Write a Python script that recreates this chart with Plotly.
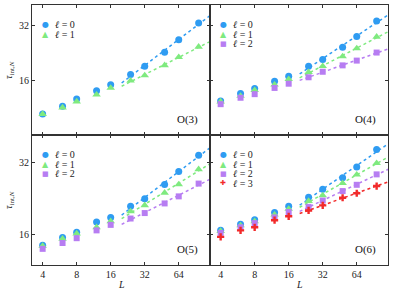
import numpy as np
import plotly.graph_objects as go
from plotly.subplots import make_subplots

# ---------------- data ----------------
L = [4, 6, 8, 12, 16, 24, 32, 48, 64, 96]

o3_l0 = [10.5, 11.6, 12.7, 14.1, 15.2, 17.3, 19.2, 22.9, 26.8, 33.1]
o3_l1 = [10.5, 11.4, 12.3, 13.4, 14.6, 16.0, 17.1, 19.4, 21.5, 24.5]

o4_l0 = [12.4, 13.6, 14.5, 15.9, 16.9, 19.2, 20.9, 24.4, 27.9, 33.9]
o4_l1 = [12.3, 13.2, 14.2, 15.2, 16.3, 17.8, 19.2, 21.7, 24.0, 27.8]
o4_l2 = [11.9, 12.9, 13.5, 14.6, 15.4, 16.7, 17.9, 19.4, 20.6, 22.8]

o5_l0 = [14.5, 15.6, 16.4, 18.1, 18.9, 21.0, 22.6, 25.9, 29.3, 34.2]
o5_l1 = [14.4, 15.4, 16.2, 17.2, 18.2, 20.0, 21.2, 23.9, 25.9, 29.9]
o5_l2 = [14.0, 14.8, 15.5, 16.7, 17.6, 18.7, 19.7, 21.6, 23.1, 26.1]

o6_l0 = [16.7, 17.7, 18.5, 19.8, 21.0, 22.9, 24.7, 27.6, 30.6, 36.1]
o6_l1 = [16.6, 17.5, 18.2, 19.4, 20.5, 22.1, 23.3, 26.2, 28.4, 31.7]
o6_l2 = [16.3, 17.2, 17.9, 18.9, 19.9, 20.9, 22.2, 24.3, 25.8, 28.5]
o6_l3 = [15.7, 16.7, 17.2, 18.4, 19.1, 20.2, 21.2, 22.8, 23.8, 25.5]

panel_names = ["O(3)", "O(4)", "O(5)", "O(6)"]
x_ticks = [4, 8, 16, 32, 64]
y_ticks = [16, 32]

FIT_LMIN = 24      # points used in power-law fit
FIT_FROM = 20      # fit line drawn from this L to the right edge
FIT_TO = 125

# ---------------- style ----------------
COLORS = ["#2f9cf2", "#7fea7f", "#b77df2", "#f22a2a"]
SYMBOLS = ["circle", "triangle-up", "square", "cross"]
SIZES = [7, 7.5, 6, 6]
GLYPHS = ["●", "▲", "■", "✚"]
GLYPH_SIZES = [8, 8, 7, 7]
FONT = "Liberation Serif, DejaVu Serif, serif"
AX = "#333333"

W, H = 399, 292
ML, MR, MT, MB = 32, 11, 5, 27
PW = (W - ML - MR) / 2
PH = (H - MT - MB) / 2

panels = [
    (1, 1, [o3_l0, o3_l1]),
    (1, 2, [o4_l0, o4_l1, o4_l2]),
    (2, 1, [o5_l0, o5_l1, o5_l2]),
    (2, 2, [o6_l0, o6_l1, o6_l2, o6_l3]),
]

fig = make_subplots(rows=2, cols=2, horizontal_spacing=0, vertical_spacing=0)

Larr = np.array(L, dtype=float)
fit_x = np.geomspace(FIT_FROM, FIT_TO, 40)
for r, c, series in panels:
    for k, ys in enumerate(series):
        ys = np.array(ys, dtype=float)
        m = Larr >= FIT_LMIN
        p = np.polyfit(np.log(Larr[m]), np.log(ys[m]), 1)
        fit_y = np.exp(np.polyval(p, np.log(fit_x)))
        fig.add_trace(go.Scatter(x=fit_x, y=fit_y, mode="lines",
                                 line=dict(color=COLORS[k], width=1.5, dash="dot"),
                                 showlegend=False, hoverinfo="skip"), row=r, col=c)
        fig.add_trace(go.Scatter(x=L, y=ys, mode="markers",
                                 marker=dict(color=COLORS[k], symbol=SYMBOLS[k],
                                             size=SIZES[k], line=dict(width=0)),
                                 showlegend=False), row=r, col=c)

xr = [np.log10(3.22), np.log10(121)]
axis_common = dict(showline=True, linecolor=AX, linewidth=1, mirror="allticks",
                   ticks="inside", ticklen=3, tickcolor=AX, tickwidth=1,
                   showgrid=False, zeroline=False, automargin=False,
                   tickfont=dict(family=FONT, size=10, color="#222"))
for r in (1, 2):
    for c in (1, 2):
        fig.update_xaxes(type="log", range=xr, tickvals=x_ticks,
                         ticktext=[str(v) for v in x_ticks],
                         showticklabels=(r == 2), row=r, col=c, **axis_common)
        yr = [np.log10(8.07), np.log10(41.5)] if r == 1 else [np.log10(12.0), np.log10(41.5)]
        fig.update_yaxes(type="log", range=yr, tickvals=y_ticks,
                         ticktext=[str(v) for v in y_ticks],
                         showticklabels=(c == 1), row=r, col=c, **axis_common)


def px(x):
    return (x - ML) / (W - ML - MR)


def py(y):
    return (H - MB - y) / (H - MT - MB)


ann = []
for idx, (r, c, series) in enumerate(panels):
    left = ML + (c - 1) * PW
    top = MT + (r - 1) * PH
    right = left + PW
    bottom = top + PH
    for k in range(len(series)):
        yy = top + 19.5 + k * 9.6
        ann.append(dict(x=px(left + 13), y=py(yy), xref="paper", yref="paper",
                        text=GLYPHS[k], showarrow=False, xanchor="center", yanchor="middle",
                        borderpad=0,
                        font=dict(family="DejaVu Sans", size=GLYPH_SIZES[k], color=COLORS[k])))
        ann.append(dict(x=px(left + 22), y=py(yy), xref="paper", yref="paper",
                        text="<i>ℓ</i> = %d" % k, showarrow=False, xanchor="left", yanchor="middle",
                        borderpad=0,
                        font=dict(family=FONT, size=10, color="#222")))
    ann.append(dict(x=px(right - 10), y=py(bottom - 16), xref="paper", yref="paper",
                    text=panel_names[idx], showarrow=False, xanchor="right", yanchor="middle",
                    font=dict(family=FONT, size=11, color="#111")))
    if c == 1:
        ann.append(dict(x=px(9), y=py((top + bottom) / 2), xref="paper", yref="paper",
                        text="<i>τ</i><sub>int,<i>N</i></sub>", showarrow=False, textangle=-90,
                        xanchor="center", yanchor="middle",
                        font=dict(family=FONT, size=10, color="#222")))
    if r == 2:
        ann.append(dict(x=px((left + right) / 2), y=py(284), xref="paper", yref="paper",
                        text="<i>L</i>", showarrow=False, xanchor="center", yanchor="middle",
                        font=dict(family=FONT, size=10, color="#222")))

fig.update_layout(width=W, height=H, margin=dict(l=ML, r=MR, t=MT, b=MB, autoexpand=False),
                  paper_bgcolor="white", plot_bgcolor="white",
                  annotations=ann, showlegend=False)

fig.write_html("out.html", config={"displayModeBar": False},
               post_script="document.body.style.margin='0';document.body.style.padding='0';")
